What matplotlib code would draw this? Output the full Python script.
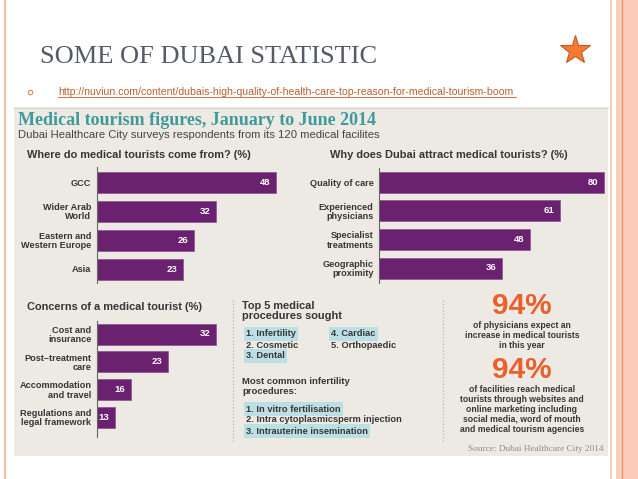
import matplotlib
matplotlib.use("Agg")
import matplotlib.pyplot as plt
from matplotlib.patches import Rectangle

plt.rcParams["font.family"] = ["Liberation Sans", "DejaVu Sans"]

# ---------------- DATA ----------------
slide_title = "SOME OF DUBAI STATISTIC"
source_url = "http://nuviun.com/content/dubais-high-quality-of-health-care-top-reason-for-medical-tourism-boom"

info_title = "Medical tourism figures, January to June 2014"
info_subtitle = "Dubai Healthcare City surveys respondents from its 120 medical facilites"

origin_title = "Where do medical tourists come from? (%)"
origin_labels = ["GCC", "Wider Arab\nWorld", "Eastern and\nWestern Europe", "Asia"]
origin_vals = [48, 32, 26, 23]

reason_title = "Why does Dubai attract medical tourists? (%)"
reason_labels = ["Quality of care", "Experienced\nphysicians", "Specialist\ntreatments", "Geographic\nproximity"]
reason_vals = [80, 61, 48, 36]

concern_title = "Concerns of a medical tourist (%)"
concern_labels = ["Cost and\ninsurance", "Post\u2013treatment\ncare", "Accommodation\nand travel",
                  "Regulations and\nlegal framework"]
concern_vals = [32, 23, 16, 13]

top5_left = ["1. Infertility", "2. Cosmetic", "3. Dental"]
top5_right = ["4. Cardiac", "5. Orthopaedic"]
top5_marked = ["1. Infertility", "3. Dental", "4. Cardiac"]
infertility = ["1. In vitro fertilisation", "2. Intra cytoplasmicsperm injection", "3. Intrauterine insemination"]
infertility_marked = ["1. In vitro fertilisation", "3. Intrauterine insemination"]

stat1 = "94%"
stat1_text = ["of physicians expect an", "increase in medical tourists", "in this year"]
stat2 = "94%"
stat2_text = ["of facilities reach medical", "tourists through websites and", "online marketing including",
              "social media, word of mouth", "and medical tourism agencies"]
source_note = "Source: Dubai Healthcare City 2014"

# ---------------- STYLE ----------------
W, H = 638, 479
PURPLE = "#6a2270"
BEIGE = "#edeae4"
DARK = "#363636"
ORANGE = "#e8602c"
TEAL = "#3f9a9b"
HILITE = "#bcdfe6"

fig = plt.figure(figsize=(W / 100, H / 100), dpi=100)
fig.patch.set_facecolor("white")

# full-figure axes in pixel coordinates for the slide decoration and text
bg = fig.add_axes([0, 0, 1, 1])
bg.set_xlim(0, W)
bg.set_ylim(H, 0)
bg.axis("off")

# slide borders
bg.plot([5, 5], [0, H], color="#f3c0ad", lw=1.6)
bg.plot([611, 611], [0, H], color="#f3c6b6", lw=1.2)
bg.add_patch(Rectangle((616, 0), W - 616, H, color="#f9cdb9", lw=0))
bg.plot([622, 622], [0, H], color="#ee9270", lw=0.9)

# slide title, star, link
bg.text(40, 63, slide_title, family="Liberation Serif", fontsize=19, color="#545b66", va="baseline")
bg.plot(575, 50, marker="*", ms=22, mfc="#f47b30", mec="#c4582a", mew=0.8)
bg.plot(30, 92, marker="o", ms=3.2, mfc="none", mec="#e0864e", mew=0.8)
bg.text(58, 92, source_url, fontsize=7.6, color="#b8622f", va="center")
bg.plot([58, 516], [96.5, 96.5], color="#b8622f", lw=0.6)

# infographic background
bg.add_patch(Rectangle((14, 107), 594, 349, color=BEIGE, lw=0))
bg.plot([14, 608], [107.5, 107.5], color="#d9d6d2", lw=0.8)

bg.text(18, 125, info_title, family="Liberation Serif", fontweight="bold", fontsize=13,
        color=TEAL, va="baseline")
bg.text(18, 135, info_subtitle, fontsize=8.1, color="#444444", va="center")

bg.text(27, 155, origin_title, fontsize=7.9, fontweight="bold", color=DARK, va="center")
bg.text(330, 155, reason_title, fontsize=7.9, fontweight="bold", color=DARK, va="center")
bg.text(27, 307, concern_title, fontsize=7.9, fontweight="bold", color=DARK, va="center")


def bar_panel(x0, x1, y0, y1, first_c, last_c, lo, px_per_unit, labels, vals):
    ax = fig.add_axes([x0 / W, 1 - y1 / H, (x1 - x0) / W, (y1 - y0) / H])
    step = (last_c - first_c) / (len(vals) - 1)
    ax.set_xlim(lo, lo + (x1 - x0) / px_per_unit)
    ax.set_ylim(len(vals) - 1 + (y1 - last_c) / step, -(first_c - y0) / step)
    ax.patch.set_alpha(0)
    pos = list(range(len(vals)))
    ax.barh(pos, [v - lo for v in vals], left=lo, height=21 / step,
            color=PURPLE, edgecolor="#8d4f93", linewidth=0.5)
    for p, v in zip(pos, vals):
        ax.annotate(str(v), (v, p), xytext=(-4, 0), textcoords="offset points",
                    ha="right", va="center", color="white", fontsize=6.8, fontweight="bold")
    for s in ["top", "right", "bottom"]:
        ax.spines[s].set_visible(False)
    ax.spines["left"].set_color("#666666")
    ax.spines["left"].set_linewidth(0.8)
    ax.set_xticks([])
    ax.set_yticks(pos)
    ax.set_yticklabels(labels, fontsize=6.6, fontweight="bold", color=DARK, linespacing=1.05)
    ax.tick_params(axis="y", length=0, pad=4)
    return ax


bar_panel(97, 300, 167, 283, 182, 269, 0, 3.72, origin_labels, origin_vals)
bar_panel(379, 610, 168, 283, 182, 268, -17, 2.32, reason_labels, reason_vals)
bar_panel(97, 230, 321, 437, 334, 417, 9.6, 5.3, concern_labels, concern_vals)

# middle column
bg.plot([233, 233], [300, 442], color="#aaaaaa", lw=0.8, ls=(0, (1, 2)))
bg.plot([443, 443], [300, 442], color="#aaaaaa", lw=0.8, ls=(0, (1, 2)))

bg.text(242, 306, "Top 5 medical", fontsize=7.9, fontweight="bold", color=DARK, va="center")
bg.text(242, 316, "procedures sought", fontsize=7.9, fontweight="bold", color=DARK, va="center")


def item(x, y, s, marked):
    box = dict(boxstyle="square,pad=0.25", fc=HILITE, ec="none") if marked else None
    bg.text(x, y, s, fontsize=6.7, fontweight="bold", color=DARK, va="center", bbox=box)


for i, s in enumerate(top5_left):
    item(246, 334 + 11 * i, s, s in top5_marked)
for i, s in enumerate(top5_right):
    item(331, 334 + 11 * i, s, s in top5_marked)

bg.text(242, 382, "Most common infertility", fontsize=6.8, fontweight="bold", color=DARK, va="center")
bg.text(242, 392, "procedures:", fontsize=6.8, fontweight="bold", color=DARK, va="center")
for i, s in enumerate(infertility):
    item(246, 409 + 11 * i, s, s in infertility_marked)

# right column
bg.text(522, 306, stat1, fontsize=21.5, fontweight="bold", color=ORANGE, ha="center", va="center")
for i, s in enumerate(stat1_text):
    bg.text(522, 326 + 10 * i, s, fontsize=6.2, fontweight="bold", color=DARK, ha="center", va="center")
bg.text(522, 370, stat2, fontsize=21.5, fontweight="bold", color=ORANGE, ha="center", va="center")
for i, s in enumerate(stat2_text):
    bg.text(522, 389 + 10 * i, s, fontsize=6.2, fontweight="bold", color=DARK, ha="center", va="center")
bg.text(604, 449, source_note, family="Liberation Serif", fontsize=6.65, color="#8c8c8c",
        ha="right", va="center")

fig.savefig("out.png", dpi=100, facecolor="white")
